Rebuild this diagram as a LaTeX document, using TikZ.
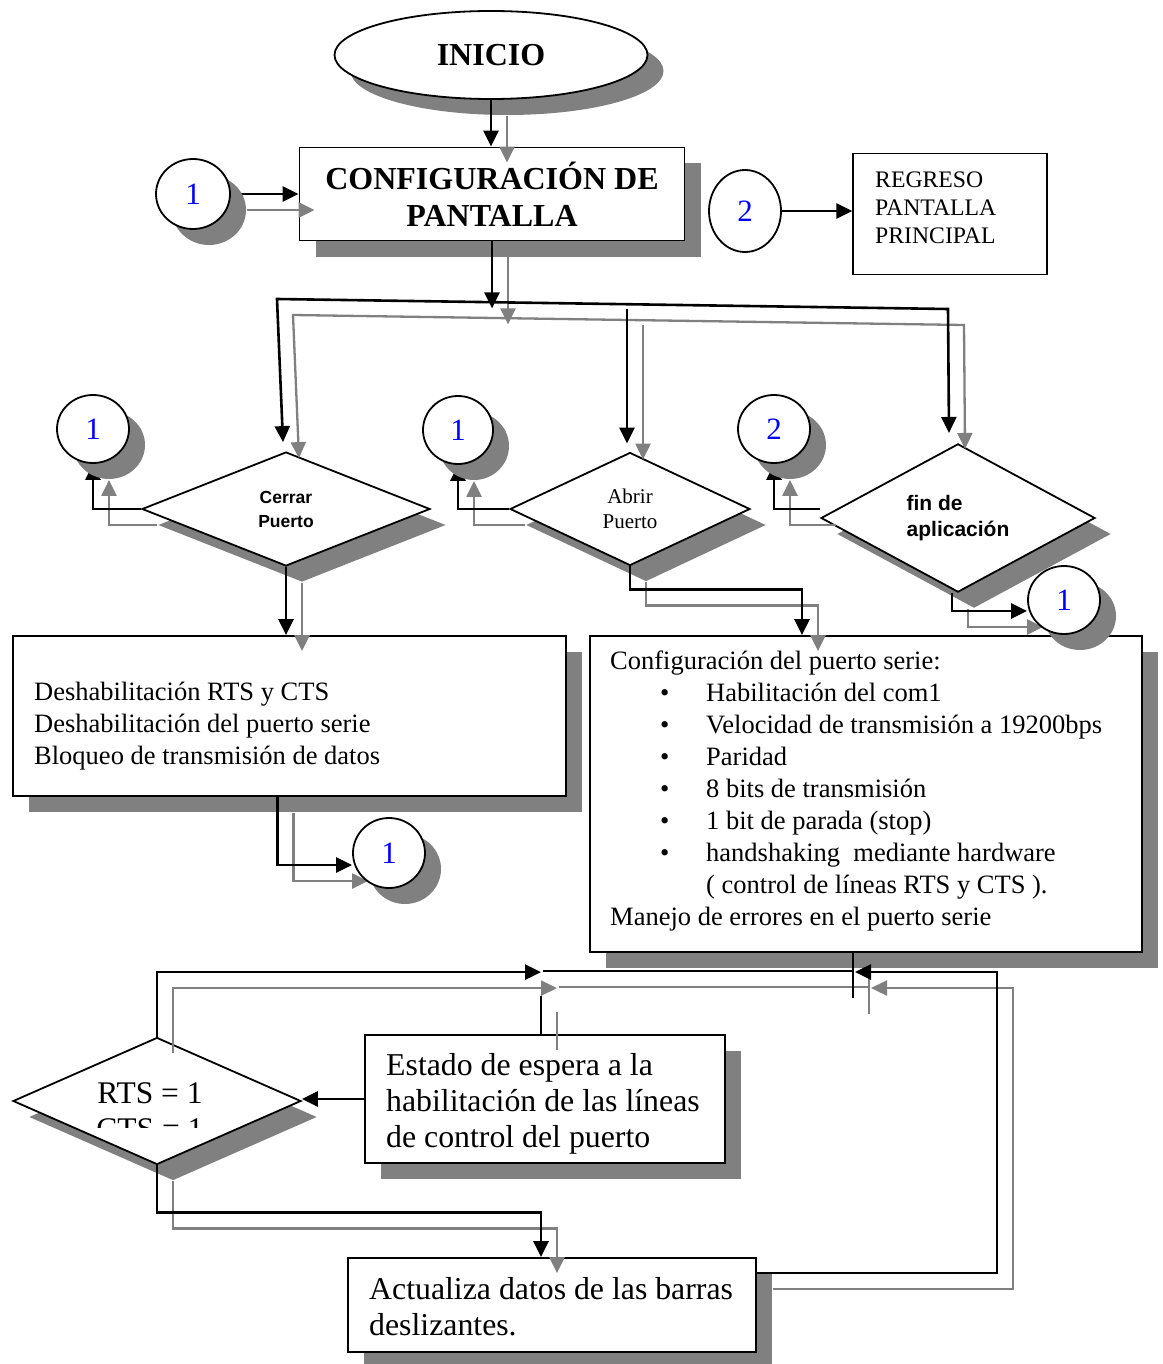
\documentclass[tikz,border=0pt]{standalone}
\usepackage{fontspec}
\setmainfont{Liberation Serif}
\newfontfamily\arialf{Liberation Sans}
\usepackage{tikz}
\usetikzlibrary{shapes.geometric, arrows.meta, shadows}
\definecolor{shgray}{RGB}{128,128,128}
\definecolor{numblue}{RGB}{0,0,255}
\pgfdeclarelayer{back}
\pgfdeclarelayer{front}
\pgfsetlayers{back,main,front}
\tikzset{
  shadowed/.style = {drop shadow={shadow xshift=16pt, shadow yshift=-16pt, fill=shgray, opacity=1}},
  box/.style = {rectangle, draw, line width=1.8pt, fill=white, inner sep=0pt},
  dec/.style = {diamond, draw, line width=1.8pt, fill=white, inner sep=0pt, align=center, shadowed},
  conector/.style = {ellipse, draw, line width=1.8pt, fill=white, inner sep=0pt, text=numblue, font=\fontsize{31}{31}\selectfont},
  txt/.style = {anchor=west, inner sep=0pt, align=left},
  conn/.style = {draw=black, line width=2.6pt},
  shd/.style = {draw=shgray, line width=2.3pt, transform canvas={shift={(16pt,-16pt)}}}
}

\begin{document}
\begin{tikzpicture}[x=1pt, y=-1pt, >={Triangle[length=16pt, width=15pt]}]
  \useasboundingbox (0,0) rectangle (1162,1364);

  \begin{pgfonlayer}{back}
    \node (ini) [ellipse, draw, line width=1.8pt, fill=white, shadowed, minimum width=313pt, minimum height=88pt, inner sep=0pt, font=\bfseries\fontsize{32}{37}\selectfont] at (491,55) {INICIO};
    \node (cfg) [box, shadowed, minimum width=385pt, minimum height=93pt, align=center, font=\bfseries\fontsize{32}{37}\selectfont] at (492,194) {CONFIGURACIÓN DE\\PANTALLA};
    \node (regreso) [box, line width=1.4pt, minimum width=194pt, minimum height=121pt] at (950,214) {};
    \node (regresotxt) [txt, font=\fontsize{23.7}{28}\selectfont] at (875,208) {REGRESO\\PANTALLA\\PRINCIPAL};

    \node (cerrar) [dec, minimum width=288pt, minimum height=114pt, font=\arialf\bfseries\fontsize{17.5}{24}\selectfont] at (286,509) {Cerrar\\Puerto};
    \node (abrir) [dec, minimum width=240pt, minimum height=113pt, font=\fontsize{21}{25}\selectfont] at (630,509) {Abrir\\Puerto};
    \node (fin) [dec, minimum width=274pt, minimum height=134pt, align=left, font=\arialf\bfseries\fontsize{21}{26}\selectfont] at (958,518) {fin de\\aplicación};

    \node (desh) [box, shadowed, minimum width=553pt, minimum height=160pt] at (289.5,716) {};
    \node (deshtxt) [txt, font=\fontsize{26.5}{32}\selectfont] at (34,726)
          {Deshabilitación RTS y CTS\\Deshabilitación del puerto serie\\Bloqueo de transmisión de datos};
    \node (serie) [box, shadowed, minimum width=552pt, minimum height=316pt] at (866,794) {};
    \node (serietxt) [txt, font=\fontsize{26.5}{32}\selectfont] at (610,791)
          {Configuración del puerto serie:\\
           \hspace*{50pt}\makebox[46pt][l]{•}Habilitación del com1\\
           \hspace*{50pt}\makebox[46pt][l]{•}Velocidad de transmisión a 19200bps\\
           \hspace*{50pt}\makebox[46pt][l]{•}Paridad\\
           \hspace*{50pt}\makebox[46pt][l]{•}8 bits de transmisión\\
           \hspace*{50pt}\makebox[46pt][l]{•}1 bit de parada (stop)\\
           \hspace*{50pt}\makebox[46pt][l]{•}handshaking\ \ mediante hardware\\
           \hspace*{96pt}( control de líneas RTS y CTS ).\\
           Manejo de errores en el puerto serie};

    \node (rts) [dec, minimum width=288pt, minimum height=127pt] at (157,1101) {};
    \node (espera) [box, shadowed, minimum width=360pt, minimum height=128pt] at (545,1099) {};
    \node (esperatxt) [txt, font=\fontsize{31.8}{36}\selectfont] at (386,1104)
          {Estado de espera a la\\habilitación de las líneas\\de control del puerto};
    \node (actual) [box, shadowed, minimum width=408pt, minimum height=94pt] at (552,1305) {};
    \node (actualtxt) [txt, font=\fontsize{31.8}{36}\selectfont] at (369,1307)
          {Actualiza datos de las barras\\deslizantes.};
  \end{pgfonlayer}

  \begin{scope}
    \clip (60,1060) rectangle (250,1127);
    \node (rtstxt) [inner sep=0pt, align=center, font=\fontsize{31.5}{36}\selectfont] at (150,1111) {RTS = 1\\CTS = 1};
  \end{scope}

  \begin{pgfonlayer}{front}
    \node (c1a) [conector, shadowed, minimum width=74pt, minimum height=70pt] at (193,194) {1};
    \node (c2a) [conector, minimum width=72pt, minimum height=82pt] at (745,211) {2};
    \node (c1b) [conector, shadowed, minimum width=72pt, minimum height=68pt] at (93,429) {1};
    \node (c1c) [conector, shadowed, minimum width=70pt, minimum height=68pt] at (458,430) {1};
    \node (c2b) [conector, shadowed, minimum width=72pt, minimum height=68pt] at (774,429) {2};
    \node (c1d) [conector, shadowed, minimum width=72pt, minimum height=68pt] at (1064,600) {1};
    \node (c1e) [conector, shadowed, minimum width=72pt, minimum height=70pt] at (389,853) {1};
  \end{pgfonlayer}

  \coordinate (bl) at (277,299);
  \coordinate (br) at (948,309);
  \coordinate (rl) at (997,972);
  \coordinate (rt) at (855,972);
  \coordinate (jr) at (853,971);
  \coordinate (jl) at (543,971);

  \foreach \s in {shd, conn} {
    \draw[\s, ->] (ini.south) -- (ini.south |- cfg.north);
    \draw[\s, ->] (c1a.east) -- (c1a.east -| cfg.west);
    \draw[\s, ->] (cfg.south) -- ([yshift=-67pt]cfg.south);
    \draw[\s, <->] ([xshift=-3pt, yshift=9pt]cerrar.north) -- (bl) -- (br) -- ([xshift=-9pt, yshift=10pt]fin.north);
    \draw[\s, ->] ([xshift=-3pt]abrir.north |- br) -- ([xshift=-3pt, yshift=8pt]abrir.north);
    \draw[\s, ->] (cerrar.west) -| (c1b.south);
    \draw[\s, ->] (abrir.west) -| (c1c.south);
    \draw[\s, ->] ([yshift=9pt]fin.west) -| (c2b.south);
    \draw[\s, ->] (cerrar.south) -- (cerrar.south |- desh.north);
    \draw[\s, ->] (abrir.south) -- ++(0,23) -| ([xshift=-64pt]serie.north);
    \draw[\s, ->] ([xshift=-6pt]fin.south) |- ([yshift=-11pt]c1d.west);
    \draw[\s, ->] ([xshift=-12pt]desh.south) |- ([yshift=-12pt]c1e.west);
    \draw[\s] ([xshift=-13pt]serie.south) -- ++(0,45);
    \draw[\s, ->] (rts.north) |- ([xshift=-4pt, yshift=62pt]espera.north);
    \draw[\s] (jr) -- (jl);
    \draw[\s] ([xshift=-4pt]espera.north) -- ++(0,-38);
    \draw[\s, ->] (rts.south) -- ++(0,47) -| ([xshift=-11pt]actual.north);
    \draw[\s, ->] ([yshift=32pt]actual.east) -| (rl) -- (rt);
  }
  \draw[conn, ->] (espera.west) -- (espera.west -| rts.east);
  \draw[conn, ->] (c2a.east) -- (c2a.east -| regreso.west);
\end{tikzpicture}
\end{document}
